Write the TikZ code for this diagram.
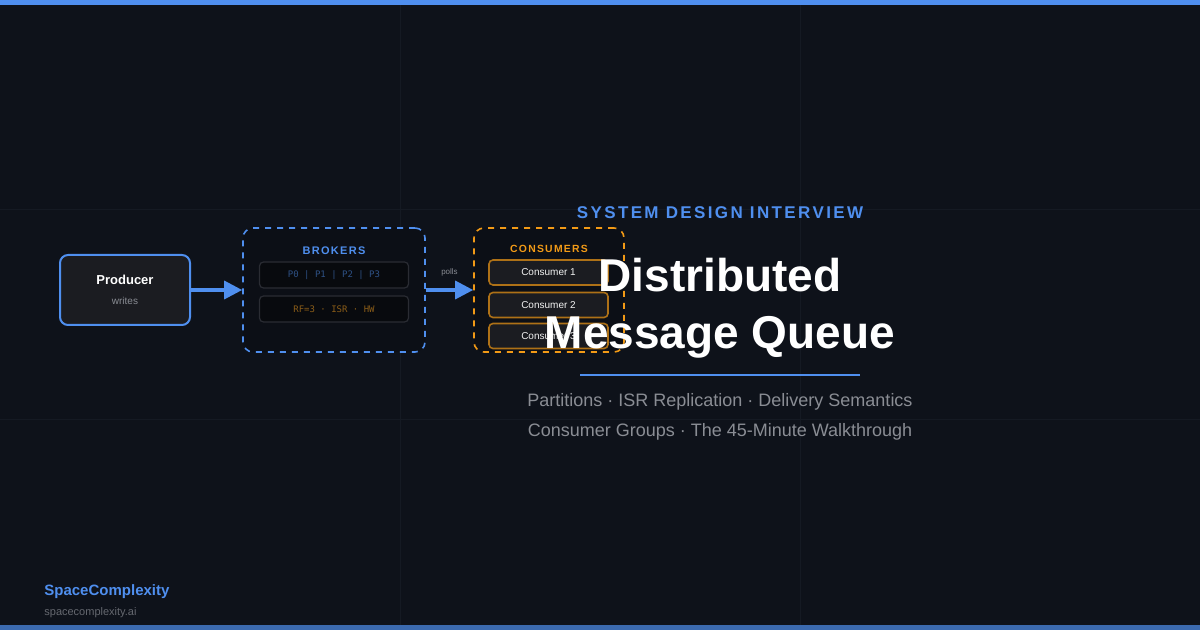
\documentclass[tikz,border=0pt]{standalone}
\usepackage{fontspec}
\setmainfont{Liberation Sans}
\setmonofont{DejaVu Sans Mono}
\newfontfamily\spaced[LetterSpace=12]{Liberation Sans}
\newfontfamily\spacedb[LetterSpace=14]{Liberation Sans}
\usetikzlibrary{arrows.meta}
\begin{document}
\definecolor{bg}{HTML}{0E121A}
\definecolor{acc}{HTML}{4F8FEF}
\definecolor{org}{HTML}{F29A16}
\definecolor{boxf}{HTML}{1B1C21}
\definecolor{txtg}{HTML}{8A8D94}
\definecolor{gridc}{HTML}{151A23}
\definecolor{inb}{HTML}{2A2C33}
\begin{tikzpicture}[x=0.5pt,y=-0.5pt,
  box/.style={draw, rounded corners=3pt, line width=0.8pt},
  arr/.style={acc, line width=1.6pt, -{Triangle[length=9pt,width=9pt]}},
  lbl/.style={inner sep=0pt, anchor=center}]
\fill[bg] (0,0) rectangle (1200,630);
\useasboundingbox (0,0) rectangle (1200,630);
\foreach \x in {400,800} \draw[gridc, line width=0.5pt] (\x,0) -- (\x,630);
\foreach \y in {210,420} \draw[gridc, line width=0.5pt] (0,\y) -- (1200,\y);
\fill[acc] (0,0) rectangle (1200,5);
\fill[acc!70!bg] (0,625) rectangle (1200,630);
% producer
\node[box, draw=acc, fill=boxf, minimum width=65pt, minimum height=35pt, rounded corners=4pt, line width=1pt] (prod) at (125,290) {};
\node[lbl, white, font=\bfseries\fontsize{6.5}{7}\selectfont] (pt) at (125,280) {Producer};
\node[lbl, txtg, font=\fontsize{5}{6}\selectfont] (pw) at (125,301) {writes};
% brokers
\node[draw=acc, dashed, rounded corners=5pt, line width=0.8pt, fill=bg!85!black, minimum width=91pt, minimum height=62pt] (brk) at (334,290) {};
\node[lbl, acc, font=\spaced\bfseries\fontsize{5.5}{6}\selectfont] (bt) at (334,251) {BROKERS};
\node[box, draw=inb, fill=black!45!bg, minimum width=74.5pt, minimum height=13pt, rounded corners=2pt, line width=0.6pt] (p) at (334,275) {};
\node[lbl, acc!50!bg, font=\ttfamily\fontsize{4.5}{5}\selectfont] at (p) {P0 | P1 | P2 | P3};
\node[box, draw=inb, fill=black!45!bg, minimum width=74.5pt, minimum height=13pt, rounded corners=2pt, line width=0.6pt] (r) at (334,309) {};
\node[lbl, org!55!bg, font=\ttfamily\fontsize{4.5}{5}\selectfont] at (r) {RF=3 · ISR · HW};
% consumers
\node[draw=org, dashed, rounded corners=5pt, line width=0.8pt, fill=bg!85!black, minimum width=75pt, minimum height=62pt] (con) at (549,290) {};
\node[lbl, org, font=\spaced\bfseries\fontsize{5.2}{6}\selectfont] (ct) at (549,249) {CONSUMERS};
\foreach \i/\y in {1/272.5,2/305,3/336}{
  \node[box, draw=org!70!bg, fill=boxf, minimum width=59.5pt, minimum height=12.5pt, rounded corners=2pt] (c\i) at (548.5,\y) {};
  \node[lbl, white!90!gray, font=\fontsize{5}{6}\selectfont] at (c\i) {Consumer \i};
}
\draw[arr] (prod.east) -- (brk.west);
\draw[arr] (brk.east) -- (con.west) node[midway, above=3pt, txtg, font=\fontsize{4}{5}\selectfont] {polls};
% title
\node[lbl, acc, font=\spacedb\bfseries\fontsize{8.5}{9}\selectfont] (sd) at (720,213) {SYSTEM DESIGN INTERVIEW};
\node[lbl, white, font=\bfseries\fontsize{23}{25}\selectfont] (t1) at (720,275) {Distributed};
\node[lbl, white, font=\bfseries\fontsize{23}{25}\selectfont] (t2) at (720,337) {Message Queue};
\coordinate (la) at (580,375); \coordinate (lb) at (860,375);
\draw[acc, line width=0.8pt] (la) -- (lb);
\node[lbl, txtg, font=\fontsize{9}{10}\selectfont] (s1) at (720,402) {Partitions · ISR Replication · Delivery Semantics};
\node[lbl, txtg, font=\fontsize{9}{10}\selectfont] (s2) at (720,432) {Consumer Groups · The 45-Minute Walkthrough};
\node[lbl, anchor=west, acc, font=\bfseries\fontsize{7.5}{8}\selectfont] (b1) at (44,592) {SpaceComplexity};
\node[lbl, anchor=west, txtg!70!bg, font=\fontsize{5.5}{6}\selectfont] (b2) at (44,613) {spacecomplexity.ai};
\end{tikzpicture}
\end{document}
